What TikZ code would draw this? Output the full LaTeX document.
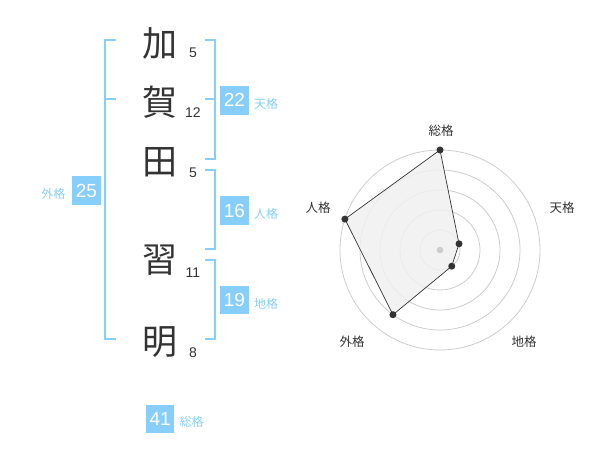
\documentclass[tikz,border=0pt]{standalone}
\usepackage{fontspec}
\setmainfont{Liberation Sans}
\newfontfamily\cjk{Noto Sans CJK JP}
\definecolor{sky}{HTML}{87CEFA}
\definecolor{ink}{HTML}{333333}
\definecolor{ring}{HTML}{CCCCCC}
\definecolor{area}{HTML}{F0F0F0}
\begin{document}
\begin{tikzpicture}[x=1pt,y=-1pt,
  kanji/.style={font=\cjk\fontsize{35}{35}\selectfont, text=ink, inner sep=0pt},
  strokes/.style={font=\fontsize{14}{14}\selectfont, text=ink, inner sep=0pt},
  numbox/.style={fill=sky, text=white, minimum size=28.5pt, inner sep=0pt, font=\fontsize{19}{19}\selectfont},
  lab/.style={font=\cjk\fontsize{12}{12}\selectfont, text=sky, inner sep=0pt},
  bracket/.style={draw=sky, line width=2pt},
  rlab/.style={font=\cjk\fontsize{12.5}{12.5}\selectfont, text=ink, inner sep=0pt},
  rring/.style={draw=ring, line width=0.8pt},
  rdot/.style={circle, fill=ink, minimum size=7pt, inner sep=0pt}]
\useasboundingbox (0,0) rectangle (600,470);
% kanji
\node[kanji] (k1) at (160,43) {加};
\node[kanji] (k2) at (160,102) {賀};
\node[kanji] (k3) at (160,162) {田};
\node[kanji] (k4) at (160,260) {習};
\node[kanji] (k5) at (160,342) {明};
% stroke counts
\node[strokes] (s1) at (193,53) {5};
\node[strokes] (s2) at (193,113) {12};
\node[strokes] (s3) at (193,173) {5};
\node[strokes] (s4) at (193,273) {11};
\node[strokes] (s5) at (193,353) {8};
% brackets
\draw[bracket] (116,40) -- (105,40) -- (105,339.5) -- (116,339.5);
\draw[bracket] (105,99.5) -- (116,99.5);
\draw[bracket] (205,40) -- (214.5,40) -- (214.5,159.5) -- (205,159.5);
\draw[bracket] (205,99.5) -- (214.5,99.5);
\draw[bracket] (205,170) -- (214.5,170) -- (214.5,249.5) -- (205,249.5);
\draw[bracket] (205,260) -- (214.5,260) -- (214.5,339.5) -- (205,339.5);
% boxes and labels
\node[numbox] (b22) at (234.5,100.3) {22};
\node[lab] (l22) at (266,104.3) {天格};
\node[numbox] (b16) at (234.5,210.5) {16};
\node[lab] (l16) at (266,214.3) {人格};
\node[numbox] (b19) at (234.5,300.2) {19};
\node[lab] (l19) at (266,304.3) {地格};
\node[numbox] (b25) at (86.5,190.5) {25};
\node[lab] (l25) at (53.3,194) {外格};
\node[numbox] (b41) at (160.2,419.2) {41};
\node[lab] (l41) at (191.5,422.3) {総格};
% radar
\coordinate (c) at (440,250);
\foreach \r in {20,40,60,80,100} \draw[rring] (c) circle[radius=\r];
\path (c) ++(0,-100) coordinate (p1);
\path (c) ++(-18:20) coordinate (p2);
\path (c) ++(54:20) coordinate (p3);
\path (c) ++(126:80) coordinate (p4);
\path (c) ++(198:100) coordinate (p5);
\filldraw[fill=area, fill opacity=0.85, draw=ink, line width=0.7pt] (p1) -- (p2) -- (p3) -- (p4) -- (p5) -- cycle;
\fill[ring] (c) circle[radius=3.3];
\foreach \p in {p1,p2,p3,p4,p5} \node[rdot] at (\p) {};
\node[rlab] (r1) at (441,130.5) {総格};
\node[rlab] (r2) at (562,208) {天格};
\node[rlab] (r3) at (524,342) {地格};
\node[rlab] (r4) at (352,342) {外格};
\node[rlab] (r5) at (318,208) {人格};
\end{tikzpicture}
\end{document}
